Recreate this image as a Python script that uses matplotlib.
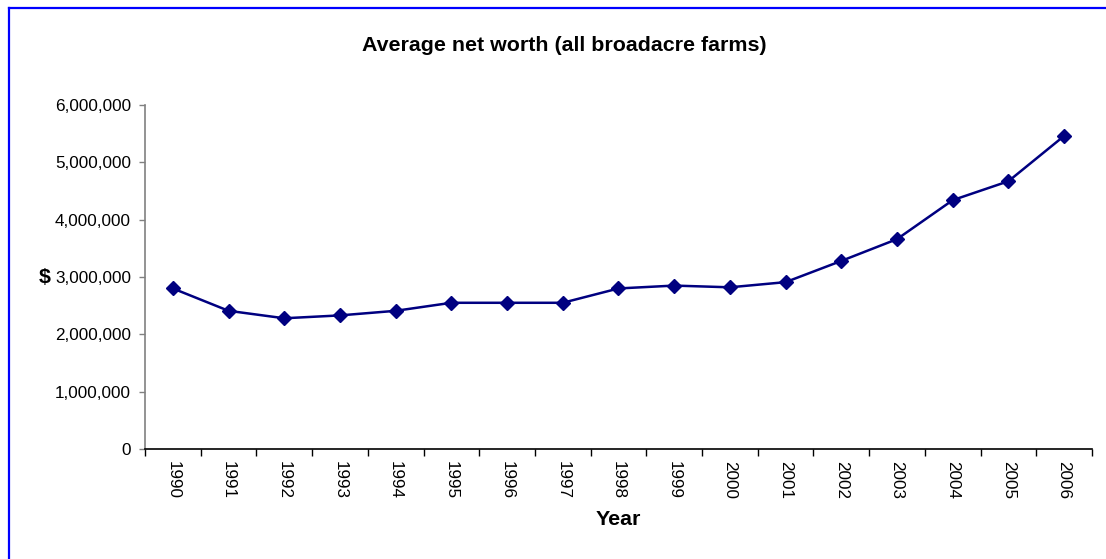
import numpy as np
import matplotlib.pyplot as plt
from matplotlib.ticker import FuncFormatter, FixedLocator

plt.rcParams['font.family'] = ['Liberation Sans', 'DejaVu Sans']

# Average net worth per broadacre farm, by financial year
years = ['1990', '1991', '1992', '1993', '1994', '1995', '1996', '1997', '1998',
         '1999', '2000', '2001', '2002', '2003', '2004', '2005', '2006']
net_worth = [2800000, 2410000, 2280000, 2330000, 2410000, 2550000, 2550000, 2550000,
             2800000, 2850000, 2820000, 2910000, 3280000, 3660000, 4340000, 4670000, 5460000]

fig = plt.figure(figsize=(11.06, 5.59), dpi=100)
ax = fig.add_axes([0.1311, 0.1968, 0.8562, 0.6154])

x = np.arange(len(years))
ax.plot(x, net_worth, color='#000080', linewidth=1.8, marker='D', markersize=7.5)

ax.set_xlim(-0.5, len(years) - 0.5)
ax.set_ylim(0, 6000000)
ax.set_yticks(np.arange(0, 6000001, 1000000))
ax.yaxis.set_major_formatter(FuncFormatter(lambda v, p: f'{int(v):,}'))

# tick marks between categories, labels at the centres
ax.xaxis.set_major_locator(FixedLocator(np.arange(-0.5, len(years), 1)))
ax.xaxis.set_major_formatter(FuncFormatter(lambda v, p: ''))
ax.xaxis.set_minor_locator(FixedLocator(x))
ax.set_xticklabels(years, minor=True, rotation=-90, fontsize=12.3)
ax.tick_params(axis='x', which='major', length=5, width=1, color='black', direction='out')
ax.tick_params(axis='x', which='minor', length=0, pad=9)
ax.tick_params(axis='y', length=4, width=1, color='#808080', labelsize=12.3, pad=6)

for side in ['top', 'right']:
    ax.spines[side].set_visible(False)
ax.spines['left'].set_color('#808080')
ax.spines['left'].set_linewidth(1.2)
ax.spines['bottom'].set_color('black')
ax.spines['bottom'].set_linewidth(1.2)

fig.text(0.51, 0.919, 'Average net worth (all broadacre farms)', ha='center', va='center',
         fontsize=15.4, fontweight='bold')
fig.text(0.04, 0.504, '$', ha='center', va='center', fontsize=15.4, fontweight='bold')
fig.text(0.559, 0.071, 'Year', ha='center', va='center', fontsize=15.4, fontweight='bold')

# blue frame along the top and left edges
fig.add_artist(plt.Line2D([0.0085, 0.0085], [0, 0.986], transform=fig.transFigure,
                          color='#0000FF', linewidth=1.6))
fig.add_artist(plt.Line2D([0.0085, 1], [0.986, 0.986], transform=fig.transFigure,
                          color='#0000FF', linewidth=1.6))

fig.savefig('out.png', dpi=100)
